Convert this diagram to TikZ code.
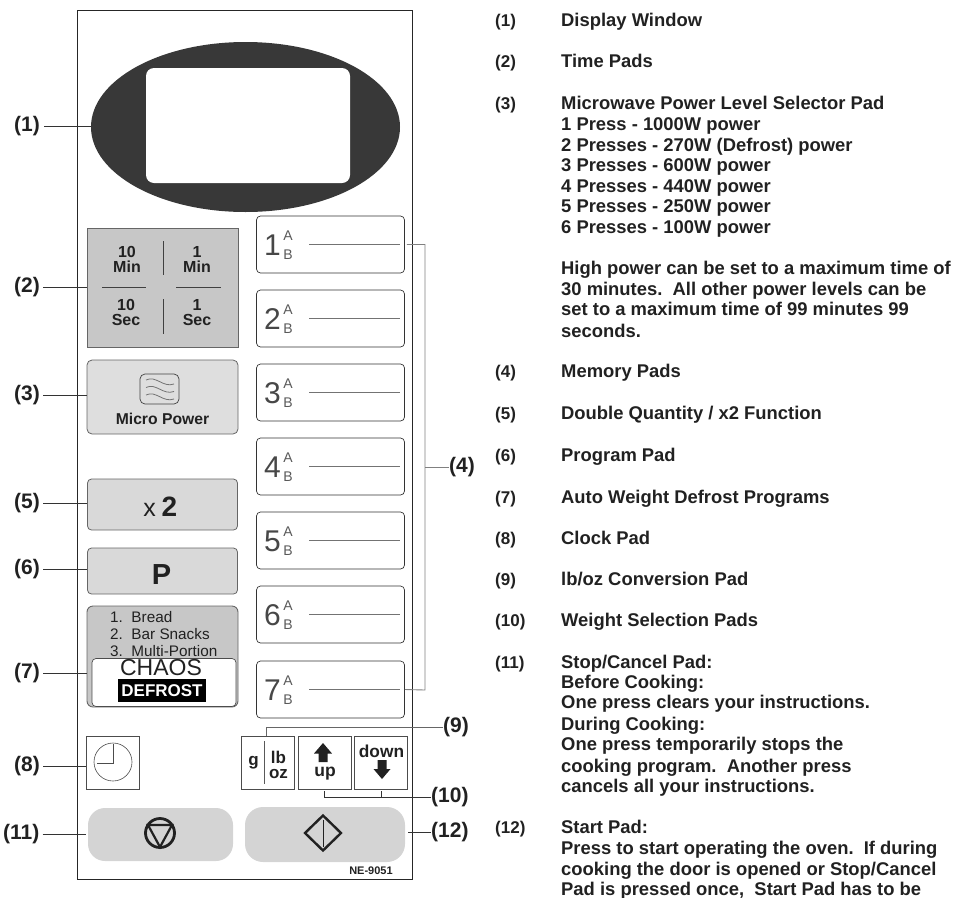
\documentclass[tikz,border=0pt]{standalone}
\usepackage{fontspec}
\usetikzlibrary{shapes.geometric}
\setmainfont{Liberation Sans}
\definecolor{ink}{gray}{0.13}
\tikzset{x=1pt,y=-1pt,
 lead/.style={draw=black!80,line width=.8pt},
 greylead/.style={draw=black!50,line width=.9pt},
 callout/.style={font=\fontsize{21}{21}\selectfont\bfseries,inner sep=0pt,anchor=west,text=ink},
 legnum/.style={font=\fontsize{17}{17}\selectfont\bfseries,inner sep=0pt,anchor=base west,text=ink},
 legtxt/.style={font=\fontsize{18.4}{18.4}\selectfont\bfseries,inner sep=0pt,anchor=base west,text=ink},
 padtxt/.style={font=\fontsize{16}{15}\selectfont\bfseries,inner sep=0pt,align=center,text=ink},
 listtxt/.style={font=\fontsize{15.3}{15}\selectfont,inner sep=0pt,anchor=base west,text=ink},
 mem/.style={draw=black!80,line width=.7pt,rounded corners=4pt},
 memline/.style={draw=black!55,line width=.8pt},
 bign/.style={font=\fontsize{30}{30}\selectfont,inner sep=0pt,text=black!72},
 smalln/.style={font=\fontsize{14}{14}\selectfont,inner sep=0pt,text=black!65},
 keybox/.style={draw=black!70,line width=.8pt,minimum width=53pt,minimum height=53pt,inner sep=0pt},
 padedge/.style={draw=black!60,line width=.8pt,inner sep=0pt}}
\begin{document}
\begin{tikzpicture}
\useasboundingbox (0,0) rectangle (957,897);
% panel
\node[draw=black!85,line width=.8pt,minimum width=335pt,minimum height=869pt,inner sep=0pt] (panel) at (244.5,444.5) {};
% display
\node[ellipse,fill=black!78,minimum width=309pt,minimum height=170pt,inner sep=0pt] (disp) at (245.5,127) {};
\fill[white,rounded corners=8pt] (146,68) rectangle (350,183);
% time pad
\node[padedge,fill=black!22,minimum width=151pt,minimum height=119pt] (time) at (162.5,287.5) {};
\draw[black!75,line width=.6pt] (163,241)--(163,275) (163,299)--(163,334) (102,287)--(146,287) (176,287)--(221,287);
\node[padtxt] at (127,259.5) {10\\Min};
\node[padtxt] at (197,259.5) {1\\Min};
\node[padtxt] at (126,312.5) {10\\Sec};
\node[padtxt] at (197,312.5) {1\\Sec};
% micro power
\node[padedge,fill=black!13,rounded corners=5pt,minimum width=151pt,minimum height=74pt] (micro) at (162.5,397) {};
\draw[black!75,line width=.7pt,rounded corners=5pt] (140,374) rectangle (179,404);
\foreach \d in {0,7.5,15}{\draw[black!55,line width=.8pt] (146,380+\d) .. controls (156,375+\d) and (163,388+\d) .. (174,384+\d);}
\node[padtxt,font=\fontsize{15.7}{16}\selectfont\bfseries] at (162.5,419) {Micro Power};
% x2
\node[padedge,fill=black!15,rounded corners=4pt,minimum width=150pt,minimum height=51pt] (xtwo) at (162.5,504.5) {};
\node[inner sep=0pt,font=\fontsize{25}{25}\selectfont,text=ink,anchor=base] at (149.5,516) {x};
\node[inner sep=0pt,font=\fontsize{28}{28}\selectfont\bfseries,text=ink,anchor=base] at (169.5,516) {2};
% P
\node[padedge,fill=black!15,rounded corners=4pt,minimum width=150pt,minimum height=46pt] (ppad) at (162.5,571) {};
\node[inner sep=0pt,font=\fontsize{29}{29}\selectfont\bfseries,text=ink,anchor=base] at (161.5,584) {P};
% defrost
\node[draw=black!60,fill=black!22,line width=.9pt,rounded corners=6pt,minimum width=151pt,minimum height=101pt,inner sep=0pt] (defrost) at (162.5,656.5) {};
\node[listtxt] at (110,622) {1.\ \ Bread};
\node[listtxt] at (110,639.5) {2.\ \ Bar Snacks};
\node[listtxt] at (110,656.5) {3.\ \ Multi-Portion};
\node[draw=black!70,fill=white,line width=.7pt,rounded corners=4pt,minimum width=144pt,minimum height=48pt,inner sep=0pt] (chaos) at (164,682.5) {};
\node[font=\fontsize{23}{23}\selectfont,inner sep=0pt,text=ink] at (161,668) {CHAOS};
\node[fill=black,text=white,font=\fontsize{17}{17}\selectfont\bfseries,minimum width=88pt,minimum height=23pt,inner sep=0pt] at (162,690.5) {DEFROST};
% clock
\node[keybox] (clock) at (113,763) {};
\draw[black!70,line width=.6pt] (113,762) circle (19);
\draw[black!70,line width=.6pt] (113.5,744)--(113.5,763)--(97,763);
% stop / start
\fill[black!17,rounded corners=17pt] (88,808) rectangle (233,861);
\draw[line width=2.8pt,ink] (160,833) circle (14.5);
\draw[line width=2.2pt,ink,line join=miter] (148,825)--(172,825)--(160,847)--cycle;
\fill[black!17,rounded corners=18pt] (245,807) rectangle (405,862);
\draw[line width=2.4pt,ink] (323,815.5)--(341,833)--(323,850.5)--(305,833)--cycle;
\draw[line width=1pt,ink] (323,820)--(323,847);
\node[font=\fontsize{11}{11}\selectfont\bfseries,inner sep=0pt,text=ink] at (371,871) {NE-9051};
% memory pads
\foreach \n/\yy in {1/216,2/290,3/364,4/438,5/512,6/586,7/661}{
 \node[mem,minimum width=148pt,minimum height=57pt,inner sep=0pt] (m\n) at (330.5,\yy+28.5) {};
 \node[bign] at (272.5,\yy+29) {\n};
 \node[smalln] at (288,\yy+19.5) {A};
 \node[smalln] at (288,\yy+39) {B};
 \draw[memline] (309,\yy+28.5)--(400,\yy+28.5);
}
\coordinate (busT) at (425,244.5);
\coordinate (busB) at (425,690);
\coordinate (busM) at (425,467);
\draw[greylead] (m1.east)++(2,0) -- (busT) -- (busB) -- (m7.east);
% keys
\node[keybox] (g) at (267.5,762.5) {};
\draw[black!65,line width=.7pt] (264,741)--(264,784);
\node[padtxt,font=\fontsize{17}{17}\selectfont\bfseries] at (253.5,763) {g};
\node[padtxt,font=\fontsize{17}{15}\selectfont\bfseries] at (278.5,764.5) {lb\\oz};
\node[keybox] (upk) at (324.5,762.5) {};
\fill[ink] (323,743)--(332,753.5)--(327.5,753.5)--(327.5,762)--(318.5,762)--(318.5,753.5)--(314,753.5)--cycle;
\node[padtxt,font=\fontsize{17.5}{17.5}\selectfont\bfseries] at (325,774) {up};
\node[keybox] (downk) at (381,763) {};
\fill[ink] (382,779)--(390.5,769)--(386.5,769)--(386.5,760)--(377.5,760)--(377.5,769)--(373.5,769)--cycle;
\node[padtxt,font=\fontsize{17.3}{17.3}\selectfont\bfseries] at (381.5,751.5) {down};
% callouts left
\node[callout] (c1) at (14,126.5) {(1)};
\node[callout] (c2) at (14,287) {(2)};
\node[callout] (c3) at (14,395) {(3)};
\node[callout] (c5) at (14,503) {(5)};
\node[callout] (c6) at (14,569) {(6)};
\node[callout] (c7) at (14,673) {(7)};
\node[callout] (c8) at (14,766) {(8)};
\node[callout] (c11) at (3,834) {(11)};
\draw[lead] (c1.east)++(4,0) -- (c1.east -| disp.west);
\draw[lead] (c2.east)++(3,0) -- (c2.east -| time.west);
\draw[lead] (c3.east)++(3,0) -- (c3.east -| micro.west);
\draw[lead] (c5.east)++(3,0) -- (c5.east -| xtwo.west);
\draw[lead] (c6.east)++(3,0) -- (c6.east -| ppad.west);
\draw[lead] (c7.east)++(3,0) -- (c7.east -| defrost.west);
\draw[lead] (c8.east)++(3,0) -- (c8.east -| clock.west);
\draw[lead] (c11.east)++(3,0) -- (86,834);
% callouts right
\node[callout] (c4) at (449,467) {(4)};
\node[callout] (c9) at (443,727) {(9)};
\node[callout] (c10) at (431,797) {(10)};
\node[callout] (c12) at (431,832) {(12)};
\draw[greylead] (busM) -- (c4.west);
\draw[lead,draw=black!60] (c9.west) -- (266,727) -- (266,736);
\draw[lead] (324,791) -- (324,797) -- (c10.west);
\draw[lead] (381,791) -- (381,797);
\draw[lead] (408,832) -- (c12.west);
% legend
\foreach \y/\n/\t in {20/(1)/Display Window,61/(2)/Time Pads,103/(3)/Microwave Power Level Selector Pad,371/(4)/Memory Pads,413/(5)/{Double Quantity / x2 Function},455/(6)/Program Pad,497/(7)/Auto Weight Defrost Programs,538/(8)/Clock Pad,579/(9)/{lb/oz Conversion Pad},620/(10)/Weight Selection Pads,662/(11)/{Stop/Cancel Pad:},827/(12)/Start Pad:}{
 \node[legnum] at (495,\y+6) {\n};
 \node[legtxt] at (561,\y+6) {\t};
}
\foreach \y/\t in {124/1 Press - 1000W power,145/2 Presses - 270W (Defrost) power,165/3 Presses - 600W power,186/4 Presses - 440W power,206/5 Presses - 250W power,227/6 Presses - 100W power,268/High power can be set to a maximum time of,289/30 minutes.\ \ All other power levels can be,309/set to a maximum time of 99 minutes 99,331/seconds.,682/Before Cooking:,702/One press clears your instructions.,724/During Cooking:,744/One press temporarily stops the,766/cooking program.\ \ Another press,786/cancels all your instructions.,848/Press to start operating the oven.\ \ If during,869/{cooking the door is opened or Stop/Cancel},889/{Pad is pressed once,\ \ Start Pad has to be}}{
 \node[legtxt] at (561,\y+6) {\t};
}
\end{tikzpicture}
\end{document}
